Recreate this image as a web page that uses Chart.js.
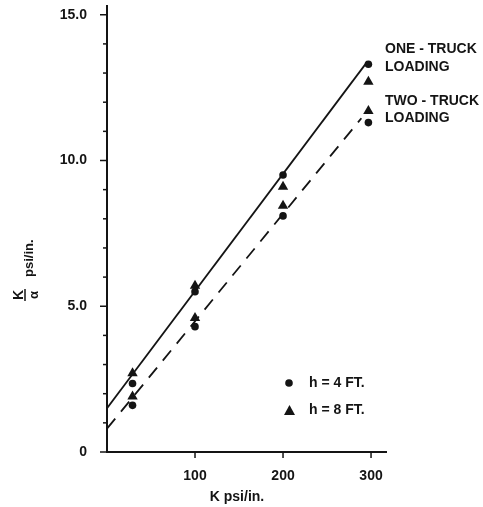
<!DOCTYPE html>
<html>
<head>
<meta charset="utf-8">
<script src="https://cdn.jsdelivr.net/npm/chart.js@4/dist/chart.umd.min.js"></script>
<style>
  html, body { margin: 0; padding: 0; background: #fff; }
  #wrap { width: 483px; height: 507px; }
</style>
</head>
<body>
<div id="wrap"><canvas id="chart" width="483" height="507"></canvas></div>
<script>
// values
const kValues = [29, 100, 200, 297];
const oneTruckH4 = [2.35, 5.5, 9.5, 13.3];
const oneTruckH8 = [2.7, 5.7, 9.1, 12.7];
const twoTruckH4 = [1.6, 4.3, 8.1, 11.3];
const twoTruckH8 = [1.9, 4.6, 8.45, 11.7];

// fitted lines (end points)
const oneTruckLineK = [0, 296];
const oneTruckLineV = [1.5, 13.4];
const twoTruckLineK = [0, 289];
const twoTruckLineV = [0.8, 11.45];

const yLabels = [0, 5, 10, 15];
const xLabels = [100, 200, 300];

const ink = "#141414";
const font = "'Liberation Sans', Arial, sans-serif";

function pts(xs, ys) {
  return xs.map((x, i) => ({ x: x, y: ys[i] }));
}

// draws ticks, texts, legend
const extras = {
  id: "extras",
  afterDraw(chart) {
    const c = chart.ctx;
    const xs = chart.scales.x, ys = chart.scales.y;
    const left = chart.chartArea.left, bottom = chart.chartArea.bottom;
    c.save();
    c.strokeStyle = ink;
    c.fillStyle = ink;
    c.lineWidth = 1.5;
    // y ticks, longer at labelled ones
    ys.ticks.forEach(t => {
      const y = ys.getPixelForValue(t.value);
      const len = yLabels.includes(t.value) ? 7 : 4;
      c.beginPath();
      c.moveTo(left - len, y);
      c.lineTo(left, y);
      c.stroke();
    });
    xLabels.forEach(v => {
      const x = xs.getPixelForValue(v);
      c.beginPath();
      c.moveTo(x, bottom);
      c.lineTo(x, bottom + 6);
      c.stroke();
    });

    // x title
    c.font = "bold 14px " + font;
    c.textAlign = "center";
    c.textBaseline = "middle";
    c.fillText("K psi/in.", 237, 497);

    // y title: K over alpha, psi/in.
    c.save();
    c.translate(25, 295);
    c.rotate(-Math.PI / 2);
    c.font = "bold 14px " + font;
    c.textAlign = "center";
    c.textBaseline = "alphabetic";
    c.fillText("K", 0, -2);
    c.lineWidth = 1.5;
    c.beginPath();
    c.moveTo(-6, 0);
    c.lineTo(6, 0);
    c.stroke();
    c.font = "bold 13px " + font;
    c.textBaseline = "top";
    c.fillText("α", 0, 3);
    c.textAlign = "left";
    c.textBaseline = "alphabetic";
    c.font = "bold 13px " + font;
    c.fillText("psi/in.", 18, 8);
    c.restore();

    // line notes
    c.font = "bold 14px " + font;
    c.textAlign = "left";
    c.textBaseline = "middle";
    c.fillText("ONE - TRUCK", 385, 49);
    c.fillText("LOADING", 385, 67);
    c.fillText("TWO - TRUCK", 385, 101);
    c.fillText("LOADING", 385, 118);

    // legend
    c.beginPath();
    c.arc(289, 383, 3.8, 0, Math.PI * 2);
    c.fill();
    c.beginPath();
    c.moveTo(284, 415);
    c.lineTo(295, 415);
    c.lineTo(289.5, 405);
    c.closePath();
    c.fill();
    c.fillText("h = 4 FT.", 309, 383);
    c.fillText("h = 8 FT.", 309, 410);
    c.restore();
  }
};

const circleSet = (data) => ({
  type: "scatter",
  data: data,
  pointStyle: "circle",
  pointRadius: 3.8,
  backgroundColor: ink,
  borderColor: ink,
  borderWidth: 0
});
const triSet = (data) => ({
  type: "scatter",
  data: data,
  pointStyle: "triangle",
  pointRadius: 6,
  backgroundColor: ink,
  borderColor: ink,
  borderWidth: 0
});

new Chart(document.getElementById("chart"), {
  type: "scatter",
  data: {
    datasets: [
      {
        type: "line",
        data: pts(oneTruckLineK, oneTruckLineV),
        borderColor: ink,
        borderWidth: 1.8,
        pointRadius: 0,
        fill: false
      },
      {
        type: "line",
        data: pts(twoTruckLineK, twoTruckLineV),
        borderColor: ink,
        borderWidth: 1.8,
        borderDash: [13, 9],
        pointRadius: 0,
        fill: false
      },
      triSet(pts(kValues, oneTruckH8)),
      triSet(pts(kValues, twoTruckH8)),
      circleSet(pts(kValues, oneTruckH4)),
      circleSet(pts(kValues, twoTruckH4))
    ]
  },
  options: {
    responsive: false,
    animation: false,
    clip: false,
    layout: { padding: { left: 0, top: 5, right: 97, bottom: 0 } },
    plugins: { legend: { display: false }, tooltip: { enabled: false } },
    scales: {
      x: {
        type: "linear",
        min: 0,
        max: 317,
        afterFit: s => { s.height = 55; s.paddingLeft = 0; s.paddingRight = 0; },
        border: { display: true, color: ink, width: 2 },
        grid: { display: false, drawTicks: false },
        ticks: {
          stepSize: 100,
          includeBounds: false,
          padding: 16,
          color: ink,
          font: { family: font, size: 14, weight: "bold" },
          callback: v => xLabels.includes(v) ? String(v) : ""
        }
      },
      y: {
        type: "linear",
        min: 0,
        max: 15.3,
        afterFit: s => { s.width = 107; s.paddingTop = 0; s.paddingBottom = 0; },
        border: { display: true, color: ink, width: 2 },
        grid: { display: false, drawTicks: false },
        ticks: {
          stepSize: 1,
          includeBounds: false,
          autoSkip: false,
          padding: 20,
          color: ink,
          font: { family: font, size: 14, weight: "bold" },
          callback: v => yLabels.includes(v) ? (v === 0 ? "0" : v.toFixed(1)) : ""
        }
      }
    }
  },
  plugins: [extras]
});
</script>
</body>
</html>
